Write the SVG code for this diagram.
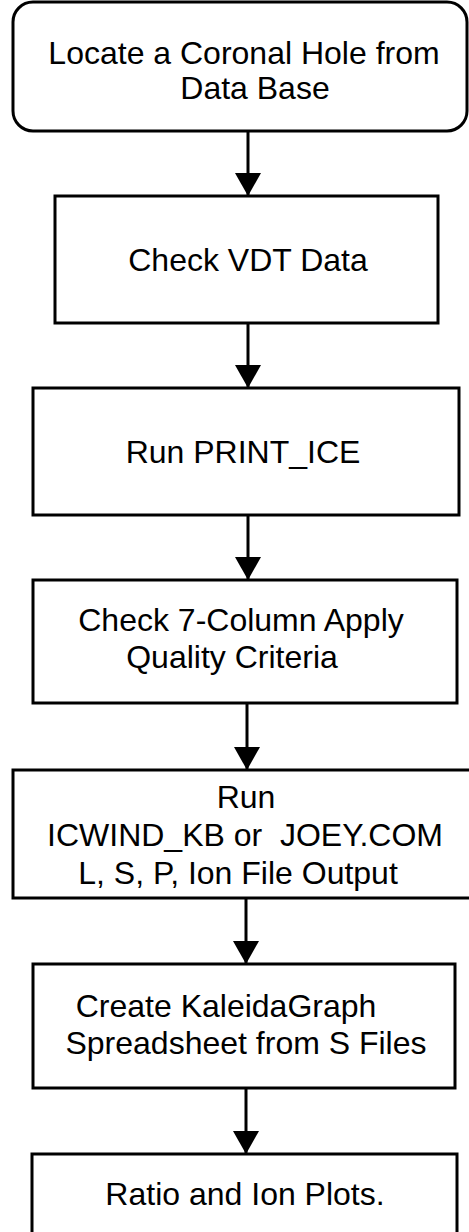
<svg xmlns="http://www.w3.org/2000/svg" width="469" height="1232" viewBox="0 0 469 1232">
  <style>
    .box { fill: #fff; stroke: #000; stroke-width: 3; }
    .lbl { font-family: "Liberation Sans", Arial, Helvetica, sans-serif; font-size: 32px; fill: #000; text-anchor: middle; }
    .edge { stroke: #000; stroke-width: 3; fill: none; marker-end: url(#arrow); }
  </style>
  <defs>
    <marker id="arrow" markerUnits="userSpaceOnUse" markerWidth="23" markerHeight="26" refX="23" refY="13" orient="auto">
      <path d="M0,0 L23,13 L0,26 Z" fill="#000"/>
    </marker>
  </defs>

  <rect x="0" y="0" width="469" height="1232" fill="#fff"/>

  <!-- flow connectors -->
  <g id="connectors">
    <line class="edge" x1="248" y1="131" x2="248" y2="196"/>
    <line class="edge" x1="248" y1="323" x2="248" y2="388"/>
    <line class="edge" x1="248" y1="515" x2="248" y2="580"/>
    <line class="edge" x1="247" y1="703" x2="247" y2="770"/>
    <line class="edge" x1="246" y1="898" x2="246" y2="964"/>
    <line class="edge" x1="246" y1="1088" x2="246" y2="1154"/>
  </g>

  <g id="locate">
    <rect class="box" x="13" y="2" width="454" height="129" rx="20" ry="20"/>
    <text class="lbl" x="244" y="64">Locate a Coronal Hole from</text>
    <text class="lbl" x="255" y="99">Data Base</text>
  </g>

  <g id="check-vdt">
    <rect class="box" x="55" y="196" width="383" height="127"/>
    <text class="lbl" x="248" y="271">Check VDT Data</text>
  </g>

  <g id="print-ice">
    <rect class="box" x="33" y="388" width="426" height="127"/>
    <text class="lbl" x="243" y="463">Run PRINT_ICE</text>
  </g>

  <g id="check-columns">
    <rect class="box" x="33" y="580" width="424" height="123"/>
    <text class="lbl" x="241" y="631">Check 7-Column Apply</text>
    <text class="lbl" x="232" y="668">Quality Criteria</text>
  </g>

  <g id="icwind">
    <rect class="box" x="13" y="770" width="470" height="128"/>
    <text class="lbl" x="246" y="808">Run</text>
    <text class="lbl" x="245" y="846" xml:space="preserve">ICWIND_KB or  JOEY.COM</text>
    <text class="lbl" x="238" y="884">L, S, P, Ion File Output</text>
  </g>

  <g id="kaleidagraph">
    <rect class="box" x="33" y="964" width="422" height="124"/>
    <text class="lbl" x="226" y="1017">Create KaleidaGraph</text>
    <text class="lbl" x="246" y="1054">Spreadsheet from S Files</text>
  </g>

  <g id="plots">
    <rect class="box" x="32" y="1154" width="425" height="127"/>
    <text class="lbl" x="245" y="1205">Ratio and Ion Plots.</text>
  </g>
</svg>
